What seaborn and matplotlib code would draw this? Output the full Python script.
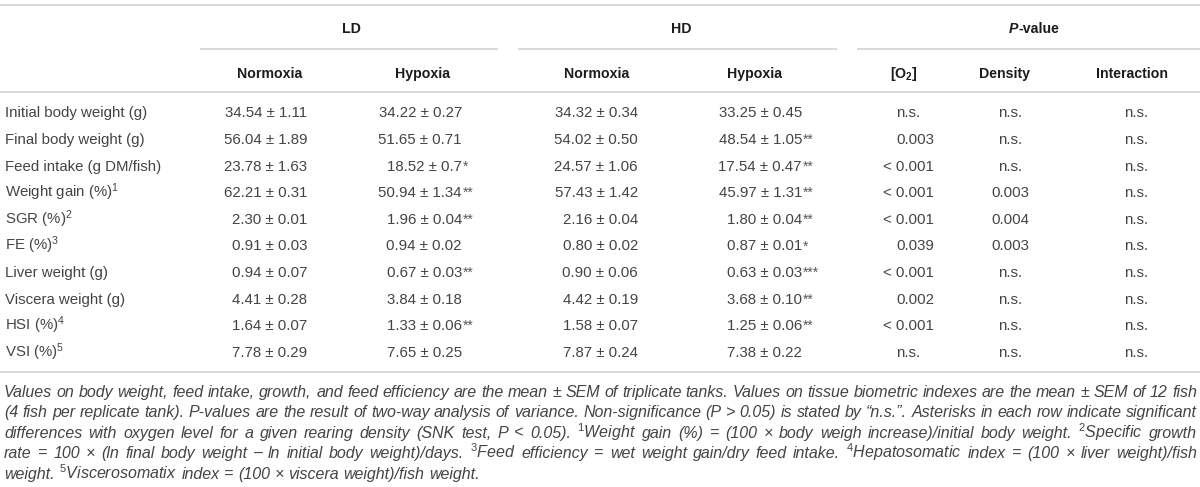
import matplotlib
matplotlib.use("Agg")
import matplotlib.pyplot as plt
import seaborn as sns

# table contents
row_labels = ["Initial body weight (g)", "Final body weight (g)", "Feed intake (g DM/fish)",
              "Weight gain (%)", "SGR (%)", "FE (%)", "Liver weight (g)",
              "Viscera weight (g)", "HSI (%)", "VSI (%)"]
row_notes = ["", "", "", "1", "2", "3", "", "", "4", "5"]

ld_norm_mean = ["34.54", "56.04", "23.78", "62.21", "2.30", "0.91", "0.94", "4.41", "1.64", "7.78"]
ld_norm_sem = ["1.11", "1.89", "1.63", "0.31", "0.01", "0.03", "0.07", "0.28", "0.07", "0.29"]
ld_norm_sig = ["", "", "", "", "", "", "", "", "", ""]

ld_hyp_mean = ["34.22", "51.65", "18.52", "50.94", "1.96", "0.94", "0.67", "3.84", "1.33", "7.65"]
ld_hyp_sem = ["0.27", "0.71", "0.7", "1.34", "0.04", "0.02", "0.03", "0.18", "0.06", "0.25"]
ld_hyp_sig = ["", "", "*", "**", "**", "", "**", "", "**", ""]

hd_norm_mean = ["34.32", "54.02", "24.57", "57.43", "2.16", "0.80", "0.90", "4.42", "1.58", "7.87"]
hd_norm_sem = ["0.34", "0.50", "1.06", "1.42", "0.04", "0.02", "0.06", "0.19", "0.07", "0.24"]
hd_norm_sig = ["", "", "", "", "", "", "", "", "", ""]

hd_hyp_mean = ["33.25", "48.54", "17.54", "45.97", "1.80", "0.87", "0.63", "3.68", "1.25", "7.38"]
hd_hyp_sem = ["0.45", "1.05", "0.47", "1.31", "0.04", "0.01", "0.03", "0.10", "0.06", "0.22"]
hd_hyp_sig = ["", "**", "**", "**", "**", "*", "***", "**", "**", ""]

p_o2 = ["n.s.", "0.003", "< 0.001", "< 0.001", "< 0.001", "0.039", "< 0.001", "0.002", "< 0.001", "n.s."]
p_density = ["n.s.", "n.s.", "n.s.", "0.003", "0.004", "0.003", "n.s.", "n.s.", "n.s.", "n.s."]
p_inter = ["n.s.", "n.s.", "n.s.", "n.s.", "n.s.", "n.s.", "n.s.", "n.s.", "n.s.", "n.s."]

groups = ["LD", "HD"]
sub_heads = ["Normoxia", "Hypoxia", "Normoxia", "Hypoxia"]
p_heads = [r"[O$_\mathbf{2}$]", "Density", "Interaction"]

footnote = [
    "Values on body weight, feed intake, growth, and feed efficiency are the mean \u00b1 SEM of triplicate tanks. Values on tissue biometric indexes are the mean \u00b1 SEM of 12 fish",
    "(4 fish per replicate tank). P-values are the result of two-way analysis of variance. Non-significance (P > 0.05) is stated by \u201cn.s.\u201d. Asterisks in each row indicate significant",
    "differences with oxygen level for a given rearing density (SNK test, P < 0.05). $^{\\mathit{1}}$Weight gain (%) = (100 \u00d7 body weigh increase)/initial body weight. $^{\\mathit{2}}$Specific growth",
    "rate = 100 \u00d7 (ln final body weight \u2013 ln initial body weight)/days. $^{\\mathit{3}}$Feed efficiency = wet weight gain/dry feed intake. $^{\\mathit{4}}$Hepatosomatic index = (100 \u00d7 liver weight)/fish",
    "weight. $^{\\mathit{5}}$Viscerosomatix index = (100 \u00d7 viscera weight)/fish weight.",
]

sns.set_theme(style="white")
plt.rcParams["font.family"] = ["Liberation Sans", "DejaVu Sans"]
plt.rcParams["mathtext.fontset"] = "custom"
plt.rcParams["mathtext.rm"] = "Liberation Sans"
plt.rcParams["mathtext.it"] = "Liberation Sans:italic"
plt.rcParams["mathtext.bf"] = "Liberation Sans:bold"

W, H = 1200, 487
FS = 10.8
FS_HEAD = 10.2
FS_FOOT = 11.5
TXT = "#444444"
HEAD = "#1c1c1c"
LINE = "#d0d0d0"

fig = plt.figure(figsize=(12, 4.87), dpi=100)
ax = fig.add_axes([0, 0, 1, 1])
ax.set_xlim(0, W)
ax.set_ylim(H, 0)
ax.axis("off")
renderer = fig.canvas.get_renderer()

body = dict(fontsize=FS, color=TXT, va="baseline")
bold = dict(fontsize=FS_HEAD, color=HEAD, fontweight="bold", va="baseline")


def wid(t):
    return t.get_window_extent(renderer).width


def base(yc, size=FS):
    return yc + 0.36 * size * 100 / 72


# rules
for y, x0, x1 in [(5, 0, W), (92, 0, W), (372, 0, W),
                  (49, 200, 498), (49, 518, 837), (49, 857, W)]:
    ax.plot([x0, x1], [y, y], color=LINE, lw=1.1, solid_capstyle="butt")

# group headers
for g, cx in zip(groups, [351, 681]):
    ax.text(cx, base(28, FS_HEAD), g, ha="center", **bold)
t1 = ax.text(0, base(28, FS_HEAD), "P", fontstyle="italic", ha="left", **bold)
t2 = ax.text(0, base(28, FS_HEAD), "-value", ha="left", **bold)
w1, w2 = wid(t1), wid(t2)
start = 1034 - (w1 + w2) / 2
t1.set_x(start)
t2.set_x(start + w1)

# sub headers
for s, cx in zip(sub_heads, [270, 423, 597, 755]):
    ax.text(cx, base(73, FS_HEAD), s, ha="center", **bold)
for s, cx in zip(p_heads, [904, 1004, 1132]):
    ax.text(cx, base(73, FS_HEAD), s, ha="center", **bold)

# body rows
value_cols = [(ld_norm_mean, ld_norm_sem, ld_norm_sig, 307),
              (ld_hyp_mean, ld_hyp_sem, ld_hyp_sig, 462),
              (hd_norm_mean, hd_norm_sem, hd_norm_sig, 638),
              (hd_hyp_mean, hd_hyp_sem, hd_hyp_sig, 802)]
row_y = [112 + 26.6 * i for i in range(len(row_labels))]

for i, yc in enumerate(row_y):
    lab = row_labels[i] + (r"$^{%s}$" % row_notes[i] if row_notes[i] else "")
    ax.text(5, base(yc), lab, ha="left", **body)
    for means, sems, sigs, xe in value_cols:
        ax.text(xe, base(yc), f"{means[i]} \u00b1 {sems[i]}", ha="right", **body)
        if sigs[i]:
            ax.text(xe + 0.5, base(yc), sigs[i], ha="left",
                    fontsize=FS * 0.92, color="#5a5a5a", va="baseline")
    # P-values: numbers right aligned, n.s. centred
    if p_o2[i] == "n.s.":
        ax.text(908, base(yc), p_o2[i], ha="center", **body)
    else:
        ax.text(934, base(yc), p_o2[i], ha="right", **body)
    ax.text(1010, base(yc), p_density[i], ha="center", **body)
    ax.text(1136, base(yc), p_inter[i], ha="center", **body)

# footnote, justified except last line
left, right = 4, 1197


def foot_widths(size):
    st = dict(fontsize=size, fontstyle="italic")
    a = ax.text(0, 0, "x x", **st)
    b = ax.text(0, 0, "xx", **st)
    sp = wid(a) - wid(b)
    a.remove()
    b.remove()
    natural = []
    for line in footnote:
        ws = []
        for w in line.split(" "):
            t = ax.text(0, 0, w, **st)
            ws.append(wid(t))
            t.remove()
        natural.append(sum(ws) + 0.9 * sp * (len(ws) - 1))
    return sp, natural


space, natural = foot_widths(FS_FOOT)
fs_foot = FS_FOOT * min(1.0, (right - left) / max(natural))
foot = dict(fontsize=fs_foot, color=TXT, fontstyle="italic", va="baseline")
space = space * fs_foot / FS_FOOT

for k, line in enumerate(footnote):
    yb = base(391 + 20.5 * k, fs_foot)
    words = line.split(" ")
    objs = [ax.text(0, yb, w, ha="left", **foot) for w in words]
    ws = [wid(o) for o in objs]
    if k < len(footnote) - 1:
        gap = (right - left - sum(ws)) / (len(words) - 1)
    else:
        gap = space
    x = left
    for o, w in zip(objs, ws):
        o.set_x(x)
        x += w + gap

fig.savefig("out.png", dpi=100, facecolor="white")
